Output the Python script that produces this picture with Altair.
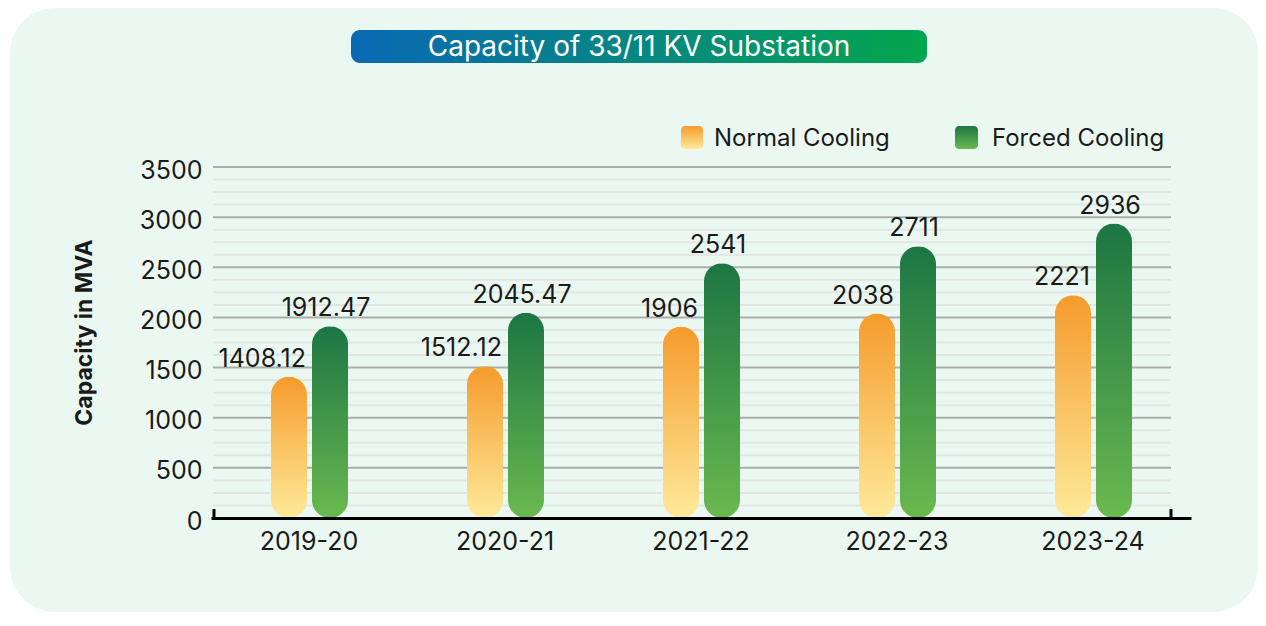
import altair as alt
import pandas as pd

# ---- data ----
YEARS = ["2019-20", "2020-21", "2021-22", "2022-23", "2023-24"]
SERIES = ["Normal Cooling", "Forced Cooling"]
NORMAL = [1408.12, 1512.12, 1906, 2038, 2221]
FORCED = [1912.47, 2045.47, 2541, 2711, 2936]
Y_TICKS = [0, 500, 1000, 1500, 2000, 2500, 3000, 3500]
GRID = [0, 125, 250, 375, 500, 625, 750, 875, 1000, 1125, 1250, 1375, 1500,
        1625, 1750, 1875, 2000, 2125, 2250, 2375, 2500, 2625, 2750, 2875,
        3000, 3125, 3250, 3375, 3500]
TITLE = "Capacity of 33/11 KV Substation"
Y_TITLE = "Capacity in MVA"

rows = []
for yr, n, f in zip(YEARS, NORMAL, FORCED):
    rows.append({"year": yr, "series": SERIES[0], "value": n, "label": f"{n:g}"})
    rows.append({"year": yr, "series": SERIES[1], "value": f, "label": f"{f:g}"})
df = pd.DataFrame(rows)
grid_df = pd.DataFrame({"v": GRID})
one = pd.DataFrame({"k": [0]})

# ---- style ----
W, H = 958, 351
FONT = "Inter"
TXT = "#1a1a1a"
PANEL = "#ebf8f2"
MAJOR = "#a9aeac"
MINOR = "#e1e6e3"
FS = 25


def vgrad(top, bottom):
    return alt.Gradient(gradient="linear", x1=0, x2=0, y1=0, y2=1,
                        stops=[alt.GradientStop(color=top, offset=0),
                               alt.GradientStop(color=bottom, offset=1)])


ORANGE = vgrad("#f59b2c", "#feea9a")
GREEN = vgrad("#1c7643", "#6ab94f")
TITLE_GRAD = alt.Gradient(gradient="linear", x1=0, x2=1, y1=0, y2=0,
                          stops=[alt.GradientStop(color="#0a68b4", offset=0),
                                 alt.GradientStop(color="#03a64e", offset=1)])

x_axis = alt.Axis(title=None, labelAngle=0, ticks=False, domain=True,
                  domainColor="black", domainWidth=3, grid=False,
                  labelFontSize=FS, labelPadding=11, labelColor=TXT,
                  labelFont=FONT, zindex=1)
y_axis = alt.Axis(values=Y_TICKS, format="d", title=Y_TITLE, grid=False,
                  domain=False, ticks=False, labelFontSize=FS, labelPadding=11,
                  labelOffset=3, labelColor=TXT, labelFont=FONT, titleFont=FONT,
                  titleFontSize=23, titleFontWeight="bold", titleColor=TXT,
                  titleX=-129, titleY=165, titleAlign="center",
                  titleBaseline="middle", zindex=1)

x_scale = alt.Scale(domain=YEARS, range=[-2, 978], paddingInner=0, paddingOuter=0)
xo_scale = alt.Scale(domain=SERIES, range=[57.5, 139.5], paddingInner=0, paddingOuter=0)
y_scale = alt.Scale(domain=[0, 3500], nice=False)

X = alt.X("year:N", sort=YEARS, scale=x_scale, axis=x_axis)
XO = alt.XOffset("series:N", sort=SERIES, scale=xo_scale)
Y = alt.Y("value:Q", scale=y_scale, axis=y_axis)

panel = alt.Chart(one).mark_rect(cornerRadius=45, color=PANEL).encode(
    x=alt.value(-203), x2=alt.value(1045), y=alt.value(-159), y2=alt.value(445))

title_bar = alt.Chart(one).mark_rect(cornerRadius=9, color=TITLE_GRAD).encode(
    x=alt.value(138), x2=alt.value(714), y=alt.value(-137), y2=alt.value(-104))
title_text = alt.Chart(one).mark_text(
    text=TITLE, font=FONT, fontSize=28, color="white", align="center",
    baseline="middle").encode(x=alt.value(426), y=alt.value(-119))

grid = alt.Chart(grid_df).mark_rule(strokeWidth=2).encode(
    y=alt.Y("v:Q", scale=y_scale, axis=y_axis),
    color=alt.condition("datum.v % 500 === 0", alt.value(MAJOR), alt.value(MINOR)))

normal = df[df.series == SERIES[0]]
forced = df[df.series == SERIES[1]]

bars_n = alt.Chart(normal).mark_bar(size=36, cornerRadius=18, color=ORANGE).encode(
    x=X, xOffset=XO, y=Y)
bars_f = alt.Chart(forced).mark_bar(size=36, cornerRadius=18, color=GREEN).encode(
    x=X, xOffset=XO, y=Y)

lab_n = alt.Chart(normal).mark_text(
    align="right", baseline="alphabetic", dx=17, dy=-10, fontSize=FS,
    font=FONT, color=TXT).encode(x=X, xOffset=XO, y=Y, text="label:N")
lab_f = alt.Chart(forced).mark_text(
    align="center", baseline="alphabetic", dx=-4, dy=-10, fontSize=FS,
    font=FONT, color=TXT).encode(x=X, xOffset=XO, y=Y, text="label:N")

leg_n_box = alt.Chart(one).mark_rect(cornerRadius=4, color=ORANGE).encode(
    x=alt.value(468), x2=alt.value(490), y=alt.value(-41), y2=alt.value(-18))
leg_n_txt = alt.Chart(one).mark_text(
    text=SERIES[0], font=FONT, fontSize=24, color=TXT, align="left",
    baseline="middle").encode(x=alt.value(501), y=alt.value(-28))
leg_f_box = alt.Chart(one).mark_rect(cornerRadius=4, color=GREEN).encode(
    x=alt.value(742), x2=alt.value(765), y=alt.value(-41), y2=alt.value(-18))
leg_f_txt = alt.Chart(one).mark_text(
    text=SERIES[1], font=FONT, fontSize=24, color=TXT, align="left",
    baseline="middle").encode(x=alt.value(779), y=alt.value(-28))

tick_l = alt.Chart(one).mark_rule(color="black", strokeWidth=3).encode(
    x=alt.value(1), y=alt.value(342), y2=alt.value(351))
tick_r = alt.Chart(one).mark_rule(color="black", strokeWidth=3).encode(
    x=alt.value(958), y=alt.value(342), y2=alt.value(351))

chart = alt.layer(
    panel, title_bar, title_text, grid, bars_n, bars_f, lab_n, lab_f,
    leg_n_box, leg_n_txt, leg_f_box, leg_f_txt, tick_l, tick_r
).properties(
    width=W, height=H,
    padding={"left": 205, "top": 159, "right": 87, "bottom": 94},
    autosize=alt.AutoSizeParams(type="none"),
    background="white",
).configure_view(stroke=None)

chart.save("out.html", embed_options={"renderer": "svg", "actions": False})
